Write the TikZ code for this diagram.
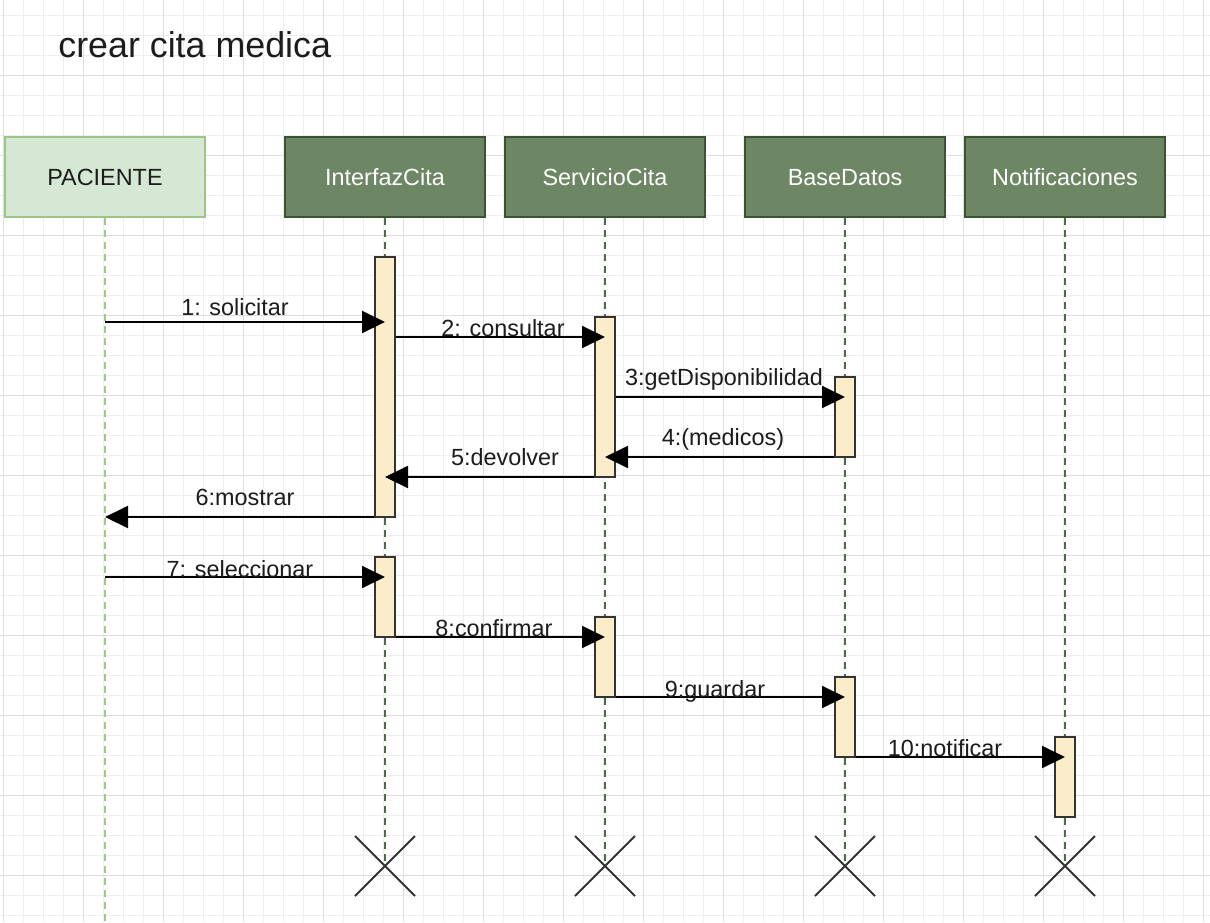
\documentclass[tikz,border=0pt]{standalone}
\usepackage{fontspec}
\setmainfont{Liberation Sans}
\usetikzlibrary{arrows.meta}
\definecolor{gridminor}{HTML}{EEEEEE}
\definecolor{gridmajor}{HTML}{DEDEDE}
\definecolor{pacfill}{HTML}{D5E8D4}
\definecolor{pacline}{HTML}{9DC586}
\definecolor{headfill}{HTML}{6D8764}
\definecolor{headline}{HTML}{3A5431}
\definecolor{barfill}{HTML}{FBEDC9}
\definecolor{barline}{HTML}{333333}
\definecolor{lifedark}{HTML}{52684A}
\definecolor{lifelight}{HTML}{9CCB83}
\definecolor{txtdark}{HTML}{1C1C1C}
\newcommand\lblfont{\fontsize{11.7pt}{14pt}\selectfont}
\newcommand\ttlfont{\fontsize{17.9pt}{21pt}\selectfont}
\begin{document}
\begin{tikzpicture}[x=0.5pt, y=-0.5pt,
	head/.style={draw=headline, fill=headfill, line width=1pt, minimum width=100pt, minimum height=40pt, text height=8.4pt, text depth=0pt, text=white, font=\lblfont},
	pachead/.style={head, draw=pacline, fill=pacfill, text=txtdark},
	bar/.style={draw=barline, fill=barfill, line width=1pt, minimum width=10pt, minimum height=40pt, inner sep=0pt},
	msg/.style={-{Triangle[length=11.5pt,width=11pt]}, line width=1pt, black},
	lbl/.style={anchor=base, font=\lblfont, text=txtdark, inner sep=0pt},
	life/.style={dash pattern=on 3.5pt off 2.5pt, line width=1pt, draw=lifedark},
	xmark/.style={line width=1pt, draw=barline}]
	\useasboundingbox (0,0) rectangle (1210,922);
	\fill[white] (0,0) rectangle (1210,922);
	\foreach \x in {3,23,...,1203} \draw[gridminor, line width=0.5pt] (\x,0) -- (\x,922);
	\foreach \y in {15,35,...,915} \draw[gridminor, line width=0.5pt] (0,\y) -- (1210,\y);
	\foreach \x in {3,83,...,1203} \draw[gridmajor, line width=0.5pt] (\x,0) -- (\x,922);
	\foreach \y in {75,155,...,875} \draw[gridmajor, line width=0.5pt] (0,\y) -- (1210,\y);

	\node[anchor=base west, font=\ttlfont, text=txtdark, inner sep=0pt] (title) at (58,57) {crear cita medica};

	\node[pachead] (pac) at (105,177) {PACIENTE};
	\node[head] (ic) at (385,177) {InterfazCita};
	\node[head] (sc) at (605,177) {ServicioCita};
	\node[head] (bd) at (845,177) {BaseDatos};
	\node[head] (nt) at (1065,177) {Notificaciones};

	\coordinate (pacEnd) at (105,922);
	\coordinate (icEnd) at (385,866);
	\coordinate (scEnd) at (605,866);
	\coordinate (bdEnd) at (845,866);
	\coordinate (ntEnd) at (1065,866);
	\draw[life, draw=lifelight] (pac.south) -- (pacEnd);
	\draw[life] (ic.south) -- (icEnd);
	\draw[life] (sc.south) -- (scEnd);
	\draw[life] (bd.south) -- (bdEnd);
	\draw[life] (nt.south) -- (ntEnd);

	\node[bar, minimum height=130pt] (ic1) at (385,387) {};
	\node[bar, minimum height=80pt] (sc1) at (605,397) {};
	\node[bar] (bd1) at (845,417) {};
	\node[bar] (ic2) at (385,597) {};
	\node[bar] (sc2) at (605,657) {};
	\node[bar] (bd2) at (845,717) {};
	\node[bar] (nt1) at (1065,777) {};

	\draw[msg] (pac |- 0,322) -- (ic1 |- 0,322) node[lbl] (m1) at (235,315) {1: solicitar};
	\draw[msg] (ic1.east |- 0,337) -- (sc1 |- 0,337) node[lbl] (m2) at (503,336) {2: consultar};
	\draw[msg] (sc1.east |- 0,397) -- (bd1 |- 0,397) node[lbl] (m3) at (724,385) {3:getDisponibilidad};
	\draw[msg] (bd1.west |- 0,457) -- (sc1 |- 0,457) node[lbl] (m4) at (723,445) {4:(medicos)};
	\draw[msg] (sc1.west |- 0,477) -- (ic1 |- 0,477) node[lbl] (m5) at (505,465) {5:devolver};
	\draw[msg] (ic1.west |- 0,517) -- (pac |- 0,517) node[lbl] (m6) at (245,505) {6:mostrar};
	\draw[msg] (pac |- 0,577) -- (ic2 |- 0,577) node[lbl] (m7) at (240,577) {7: seleccionar};
	\draw[msg] (ic2.east |- 0,637) -- (sc2 |- 0,637) node[lbl] (m8) at (494,636) {8:confirmar};
	\draw[msg] (sc2.east |- 0,697) -- (bd2 |- 0,697) node[lbl] (m9) at (715,697) {9:guardar};
	\draw[msg] (bd2.east |- 0,757) -- (nt1 |- 0,757) node[lbl] (m10) at (945,756) {10:notificar};

	\foreach \e in {icEnd,scEnd,bdEnd,ntEnd}
		\draw[xmark] (\e) +(-30,-30) -- +(30,30) +(-30,30) -- +(30,-30);
\end{tikzpicture}
\end{document}
